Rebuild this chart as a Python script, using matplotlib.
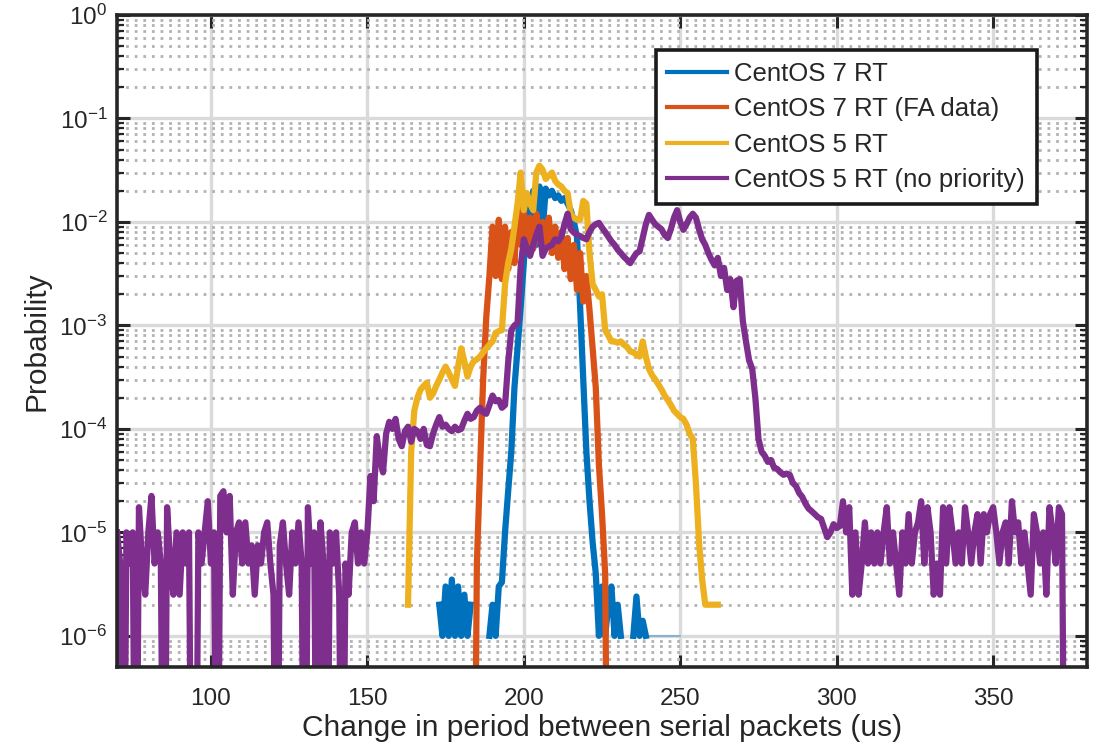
import numpy as np
import matplotlib
matplotlib.use('Agg')
import matplotlib.pyplot as plt
from matplotlib.ticker import LogLocator, NullLocator, NullFormatter

plt.rcParams['font.family'] = ['Liberation Sans', 'DejaVu Sans']
plt.rcParams['mathtext.default'] = 'regular'

# histogram bins are 1 us wide, probabilities are stored in units of 1e-6
UNIT = 1e-6
FLOOR = 1e-9   # empty bins are pushed below the axis

labels = ['CentOS 7 RT', 'CentOS 7 RT (FA data)', 'CentOS 5 RT', 'CentOS 5 RT (no priority)']
colors = ['#0072BD', '#D95319', '#EDB120', '#7E2F8E']

# CentOS 7 RT, bins 173..239 (nan = empty bin)
c7_start = 173
c7 = [2, 1, 3, 1, 3.5, 1, 3, 1, 2.5, 1,
      2, np.nan, np.nan, np.nan, np.nan, np.nan, 1, 2, 1, 3,
      3.3, 10, 25, 60, 250, 600, 1500, 4000, 15000, 5000,
      20000, 6000, 22000, 8000, 21000, 18000, 20000, 17000, 18000, 16000,
      17000, 15000, 13000, 10000, 7200, 1500, 300, 60, 20, 8,
      4, 1, 3, 1, 2, 3, 1, 2, 1, np.nan,
      np.nan, np.nan, 1, 2.4, 1, 1.4, 1]
c7_tail_start = 240
c7_tail = [1, 1, 1, 1, 1, 1, 1, 1, 1, 1, 1]

# CentOS 7 RT (FA data), bins 184..227
c7fa_start = 184
c7fa = [0, 5, 40, 300, 1200, 3000, 9000, 3000, 10500, 2800,
        9000, 3500, 8000, 4000, 14000, 6000, 13000, 6000, 11000, 5500,
        12000, 6500, 10000, 6000, 11000, 5000, 9000, 4500, 8000, 3500,
        7000, 2800, 6000, 2200, 5000, 1700, 3000, 1400, 600, 250,
        45, 15, 4, 0]

# CentOS 5 RT, bins 163..262
c5_start = 163
c5 = [2, 60, 150, 200, 240, 260, 280, 200, 220, 260,
      300, 350, 400, 350, 300, 260, 400, 600, 450, 320,
      400, 450, 470, 500, 550, 600, 650, 700, 850, 880,
      900, 2500, 4000, 5500, 9000, 15000, 30000, 13000, 19000, 15000,
      13000, 30000, 35000, 32000, 26000, 28000, 30000, 25000, 23000, 22000,
      20000, 19000, 12000, 11000, 10500, 10500, 16000, 15000, 5000, 2500,
      2200, 1900, 2000, 900, 800, 700, 700, 680, 700, 650,
      620, 560, 550, 520, 500, 700, 500, 380, 330, 300,
      270, 240, 210, 190, 170, 150, 140, 130, 125, 110,
      90, 80, 30, 8, 3.5, 2, 2, 2, 2, 2]

# CentOS 5 RT (no priority), bins 70..373
c5np_start = 70
c5np = [10, 5, 0, 10, 5, 10, 0, 17.5, 5, 2.5,
        10, 22.5, 5, 10, 5, 0, 17.5, 5, 2.5, 10,
        2.5, 10, 5, 10, 0, 0, 10, 5, 10, 20,
        5, 10, 0, 22.5, 25, 10, 22.5, 2.5, 10, 12.5,
        5, 12.5, 5, 7.5, 2.5, 7.5, 5, 10, 12.5, 5,
        2.5, 0, 7.5, 12.5, 5, 2.5, 10, 5, 12.5, 5,
        0, 17.5, 5, 10, 0, 12.5, 5, 0, 10, 5,
        10, 2.5, 0, 5, 2.5, 10, 12.5, 5, 10, 5,
        10,
        35, 20, 85, 50, 38, 90, 117, 100, 125, 80,
        68, 95, 105, 75, 100, 95, 80, 100, 70, 68,
        90, 110, 130, 105, 110, 100, 95, 105, 97, 100,
        120, 140, 125, 130, 150, 160, 145, 140, 170, 210,
        185, 190, 160, 170, 440, 900, 1000, 1050, 3700,
        6800, 5500, 4700, 6000, 7500, 9000, 4700, 5500, 5800, 6000,
        6800, 6500, 7200, 9500, 12000, 8500, 7900, 7500, 7300, 7000,
        6800, 8000, 9000, 9500, 9800, 8800, 8000, 7200, 6500, 6000,
        5400, 5000, 4600, 4300, 4000, 4500, 5000, 5200, 7000, 9500,
        11700, 10500, 9500, 9000, 8500, 7500, 7000, 8500, 11000, 13000,
        10000,
        8400, 9500, 11000, 12000, 11000, 8500, 6800, 6000, 5000, 4300,
        3800, 4500, 3000, 3600, 2200, 2800, 1500, 2700, 2800, 1100,
        700, 460, 380, 200, 80, 60, 55, 48, 50, 42,
        41, 38, 36, 37, 36, 30, 28, 24, 22, 19,
        17, 16, 15, 14, 13.5, 11, 9, 10, 12, 11,
        11.5,
        20, 10, 17.5, 2.5, 10, 2.5, 5, 12.5, 5, 10,
        5, 10, 5, 10, 17.5, 5, 10, 5, 2.5, 10,
        5, 15, 5, 10, 12.5, 20, 5, 17.5, 10, 2.5,
        5, 2.5, 17.5, 5, 17.5, 10, 5, 10, 5, 17.5,
        10, 5, 10, 15, 5, 15, 10, 15, 17.5, 10,
        5, 10, 12.5, 5, 20, 10, 12.5, 5, 10, 5,
        2.5, 15, 10, 5, 10, 2.5, 17.5, 10, 5, 17.5,
        15, 0]

xticks = [100, 150, 200, 250, 300, 350]
yticks = [1e-6, 1e-5, 1e-4, 1e-3, 1e-2, 1e-1, 1e0]


def series(start, vals):
    p = np.array(vals, dtype=float) * UNIT
    p[p == 0] = FLOOR
    return np.arange(start, start + len(p)), p


fig = plt.figure(figsize=(10.98, 7.53), dpi=100)
ax = fig.add_axes([0.1066, 0.1142, 0.8834, 0.8659])

data = [(c7_start, c7), (c7fa_start, c7fa), (c5_start, c5), (c5np_start, c5np)]
for (start, vals), col, lab in zip(data, colors, labels):
    x, p = series(start, vals)
    ax.plot(x, p, color=col, lw=4.5, label=lab)
# sparse single-count tail of the CentOS 7 run
xt, pt = series(c7_tail_start, c7_tail)
ax.plot(xt, pt, color=colors[0], lw=1.2, alpha=0.45)

ax.set_yscale('log')
ax.set_xlim(70, 380)
ax.set_ylim(5e-7, 1)
ax.set_xticks(xticks)
ax.set_yticks(yticks)
ax.xaxis.set_minor_locator(NullLocator())
ax.yaxis.set_minor_locator(LogLocator(base=10, subs=np.arange(2, 10), numticks=12))
ax.yaxis.set_minor_formatter(NullFormatter())

ax.set_axisbelow(True)
ax.grid(which='major', color='#dadada', lw=2.4, ls='-')
ax.grid(which='minor', axis='y', color='#b2b2b2', lw=2, ls=(0, (1, 2.1)))

ax.tick_params(which='both', direction='in', top=True, right=True,
               colors='#262626', labelcolor='#262626')
ax.tick_params(which='major', length=9, width=2.2, labelsize=17.5)
ax.tick_params(axis='x', which='major', pad=15)
ax.tick_params(axis='y', which='major', pad=7)
ax.tick_params(which='minor', length=5, width=1.6)
for s in ax.spines.values():
    s.set_linewidth(2.6)
    s.set_color('#262626')

ax.set_xlabel('Change in period between serial packets (us)', fontsize=21.5,
              color='#262626', labelpad=3)
ax.set_ylabel('Probability', fontsize=21.5, color='#262626', labelpad=6)

leg = ax.legend(loc='upper right', bbox_to_anchor=(0.948, 0.946), borderaxespad=0,
                fontsize=18.5, handlelength=2.3, handletextpad=0.3, labelspacing=0.45,
                borderpad=0.45, fancybox=False, framealpha=1, edgecolor='#1a1a1a')
leg.get_frame().set_linewidth(2.6)
for h in leg.get_lines():
    h.set_linewidth(3)
for t in leg.get_texts():
    t.set_color('#262626')

fig.savefig('out.png', dpi=100)
